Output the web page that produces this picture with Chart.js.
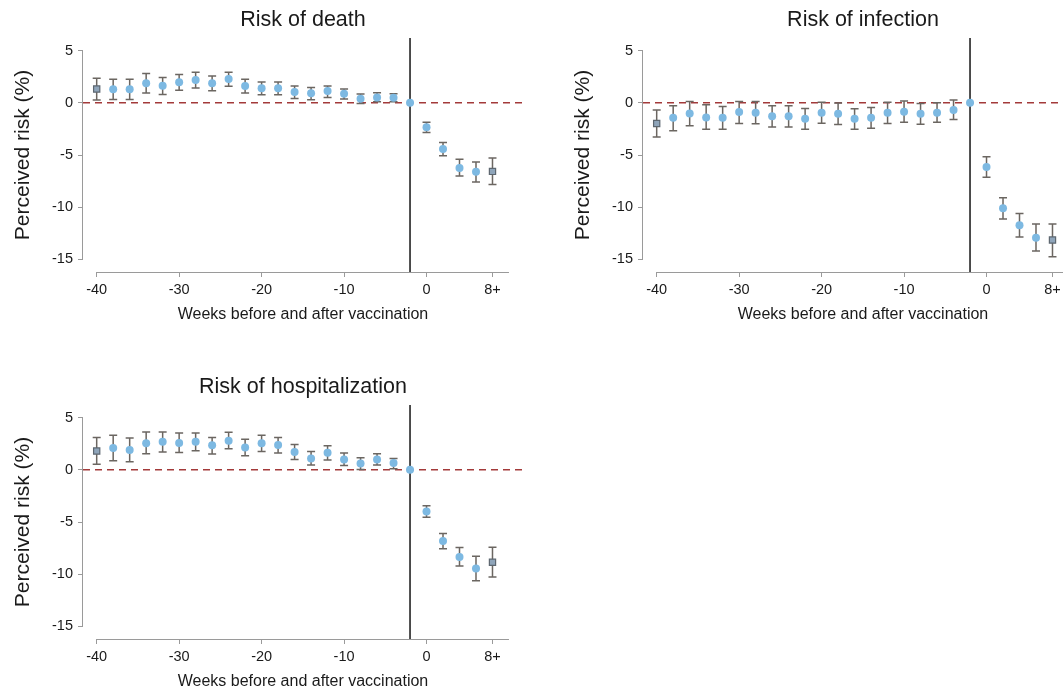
<!DOCTYPE html>
<html>
<head>
<meta charset="utf-8">
<script src="https://cdn.jsdelivr.net/npm/chart.js@4.4.1/dist/chart.umd.min.js"></script>
<style>
  html, body { margin: 0; padding: 0; background: #ffffff; overflow: hidden; width: 1063px; height: 689px; }
  .panel { position: absolute; }
</style>
</head>
<body>
<div class="panel" style="left:0px;top:0px;"><canvas id="c1" width="626" height="340"></canvas></div>
<div class="panel" style="left:560px;top:0px;"><canvas id="c2" width="626" height="340"></canvas></div>
<div class="panel" style="left:0px;top:367px;"><canvas id="c3" width="626" height="340"></canvas></div>
<script>
// ---------- data ----------
const weeks = [-40,-38,-36,-34,-32,-30,-28,-26,-24,-22,-20,-18,-16,-14,-12,-10,-8,-6,-4,-2,0,2,4,6,8];
const referenceWeek = -2;

const deathEst = [1.32,1.29,1.29,1.86,1.64,1.96,2.18,1.86,2.28,1.61,1.38,1.38,1.03,0.90,1.12,0.87,0.39,0.51,0.48,0,-2.34,-4.42,-6.25,-6.60,-6.57];
const deathLo  = [0.26,0.32,0.32,0.93,0.80,1.19,1.41,1.16,1.57,0.93,0.77,0.77,0.42,0.29,0.51,0.36,-0.06,0.10,0.10,null,-2.85,-5.06,-7.02,-7.59,-7.82];
const deathHi  = [2.34,2.25,2.25,2.79,2.41,2.70,2.92,2.57,2.92,2.25,1.99,1.99,1.61,1.45,1.61,1.32,0.84,0.96,0.87,null,-1.86,-3.81,-5.41,-5.67,-5.29];

const infEst = [-1.98,-1.44,-1.02,-1.41,-1.44,-0.89,-0.96,-1.28,-1.28,-1.54,-0.96,-1.06,-1.54,-1.44,-0.96,-0.86,-1.06,-0.96,-0.70,0,-6.15,-10.09,-11.73,-12.91,-13.14];
const infLo  = [-3.27,-2.69,-2.21,-2.53,-2.53,-1.98,-2.02,-2.31,-2.31,-2.53,-1.95,-2.08,-2.53,-2.43,-1.98,-1.86,-2.05,-1.86,-1.60,null,-7.14,-11.12,-12.85,-14.20,-14.74];
const infHi  = [-0.70,-0.29,0.13,-0.19,-0.35,0.13,0.13,-0.29,-0.29,-0.54,0.04,-0.03,-0.58,-0.45,0.04,0.16,-0.06,0.00,0.26,null,-5.16,-9.10,-10.61,-11.60,-11.60];

const hospEst = [1.79,2.08,1.89,2.53,2.69,2.56,2.69,2.34,2.78,2.14,2.53,2.37,1.70,1.09,1.63,0.99,0.61,0.99,0.64,0,-4.00,-6.81,-8.35,-9.44,-8.86];
const hospLo  = [0.54,0.86,0.77,1.54,1.70,1.66,1.82,1.50,2.02,1.34,1.76,1.60,0.99,0.45,0.93,0.42,0.03,0.45,0.10,null,-4.54,-7.55,-9.21,-10.62,-10.27];
const hospHi  = [3.10,3.30,3.04,3.61,3.61,3.52,3.52,3.10,3.58,2.91,3.30,3.10,2.43,1.76,2.30,1.60,1.15,1.54,1.09,null,-3.45,-6.11,-7.45,-8.29,-7.42];

const xTickValues = [-40,-30,-20,-10,0,8];
const xTickLabels = ['-40','-30','-20','-10','0','8+'];
const yTickValues = [-15,-10,-5,0,5];
const xAxisSpan = [-40, 10];
const yAxisSpan = [-15, 5];

const titles = ['Risk of death', 'Risk of infection', 'Risk of hospitalization'];
const yTitle = 'Perceived risk (%)';
const xTitle = 'Weeks before and after vaccination';

// ---------- styling ----------
const FONT = '"Liberation Sans", Arial, Helvetica, sans-serif';
const AXIS_COLOR = '#9a9a9a';
const TEXT_COLOR = '#1a1a1a';

function makePanel(id, title, est, lo, hi) {
  const pts = weeks.map((w, i) => ({x: w, y: est[i]}));
  const last = weeks.length - 1;
  const isEnd = (c) => c.dataIndex === 0 || c.dataIndex === last;

  const decor = {
    id: 'decor' + id,
    beforeDatasetsDraw(chart) {
      const {ctx, chartArea: a, scales: {x, y}} = chart;
      ctx.save();
      // axis lines (truncated, Stata style)
      ctx.strokeStyle = AXIS_COLOR;
      ctx.lineWidth = 1;
      ctx.beginPath();
      ctx.moveTo(Math.round(a.left) - 0.5, y.getPixelForValue(yAxisSpan[1]));
      ctx.lineTo(Math.round(a.left) - 0.5, y.getPixelForValue(yAxisSpan[0]));
      ctx.moveTo(x.getPixelForValue(xAxisSpan[0]), Math.round(a.bottom) + 0.5);
      ctx.lineTo(x.getPixelForValue(xAxisSpan[1]), Math.round(a.bottom) + 0.5);
      ctx.stroke();
      // zero reference dashed line
      const y0 = y.getPixelForValue(0);
      ctx.strokeStyle = '#a33a3a';
      ctx.lineWidth = 1.6;
      ctx.setLineDash([7, 5]);
      ctx.beginPath();
      ctx.moveTo(a.left, y0);
      ctx.lineTo(a.right, y0);
      ctx.stroke();
      ctx.setLineDash([]);
      // vaccination reference vertical line
      const xr = x.getPixelForValue(referenceWeek);
      ctx.strokeStyle = '#3c3c3c';
      ctx.lineWidth = 1.8;
      ctx.beginPath();
      ctx.moveTo(xr, a.top);
      ctx.lineTo(xr, a.bottom);
      ctx.stroke();
      // error bars
      ctx.strokeStyle = '#6b6661';
      ctx.lineWidth = 1.5;
      const cap = 4;
      for (let i = 0; i < weeks.length; i++) {
        if (lo[i] === null || hi[i] === null) continue;
        const px = x.getPixelForValue(weeks[i]);
        const pl = y.getPixelForValue(lo[i]);
        const ph = y.getPixelForValue(hi[i]);
        ctx.beginPath();
        ctx.moveTo(px, pl); ctx.lineTo(px, ph);
        ctx.moveTo(px - cap, pl); ctx.lineTo(px + cap, pl);
        ctx.moveTo(px - cap, ph); ctx.lineTo(px + cap, ph);
        ctx.stroke();
      }
      ctx.restore();
    }
  };

  return new Chart(document.getElementById(id), {
    type: 'scatter',
    data: {
      datasets: [{
        data: pts,
        pointStyle: (c) => isEnd(c) ? 'rect' : 'circle',
        pointRadius: (c) => isEnd(c) ? 4.4 : 4,
        pointBackgroundColor: (c) => isEnd(c) ? '#8fa5ba' : '#7db9e2',
        pointBorderColor: (c) => isEnd(c) ? '#5d6770' : '#7db9e2',
        pointBorderWidth: (c) => isEnd(c) ? 1.2 : 0,
        showLine: false
      }]
    },
    options: {
      responsive: false,
      animation: false,
      devicePixelRatio: 1,
      layout: { padding: { left: 0, right: 103, top: 0, bottom: 0 } },
      plugins: {
        legend: { display: false },
        tooltip: { enabled: false },
        title: {
          display: true,
          text: title,
          fullSize: false,
          color: TEXT_COLOR,
          font: { family: FONT, size: 21.5, weight: 'normal', lineHeight: 1.2 },
          padding: { top: 7.6, bottom: 4.6 }
        }
      },
      scales: {
        x: {
          type: 'linear',
          min: -41.66,
          max: 11.7,
          afterFit: (s) => { s.height = 68; },
          afterBuildTicks: (s) => { s.ticks = xTickValues.map(v => ({value: v})); },
          border: { display: false },
          grid: { display: true, drawOnChartArea: false, drawTicks: true, tickLength: 5, color: AXIS_COLOR, lineWidth: 1 },
          ticks: {
            autoSkip: false, maxRotation: 0, padding: 4,
            color: TEXT_COLOR,
            font: { family: FONT, size: 14.5, lineHeight: 1.2 },
            callback: (v) => { const k = xTickValues.indexOf(v); return k >= 0 ? xTickLabels[k] : ''; }
          },
          title: {
            display: true, text: xTitle, color: TEXT_COLOR,
            font: { family: FONT, size: 16, lineHeight: 1.2 },
            padding: { top: 0, bottom: 15.7 }
          }
        },
        y: {
          type: 'linear',
          min: -16.2,
          max: 6.2,
          afterFit: (s) => { s.width = 83; },
          afterBuildTicks: (s) => { s.ticks = yTickValues.map(v => ({value: v})); },
          border: { display: false },
          grid: { display: true, drawOnChartArea: false, drawTicks: true, tickLength: 5, color: AXIS_COLOR, lineWidth: 1 },
          ticks: {
            autoSkip: false, padding: 5,
            color: TEXT_COLOR,
            font: { family: FONT, size: 14.5, lineHeight: 1.2 },
            callback: (v) => String(v)
          },
          title: {
            display: true, text: yTitle, color: TEXT_COLOR,
            font: { family: FONT, size: 21, lineHeight: 1.2 },
            padding: { top: 10.4, bottom: 0 }
          }
        }
      }
    },
    plugins: [decor]
  });
}

makePanel('c1', titles[0], deathEst, deathLo, deathHi);
makePanel('c2', titles[1], infEst, infLo, infHi);
makePanel('c3', titles[2], hospEst, hospLo, hospHi);
</script>
</body>
</html>
